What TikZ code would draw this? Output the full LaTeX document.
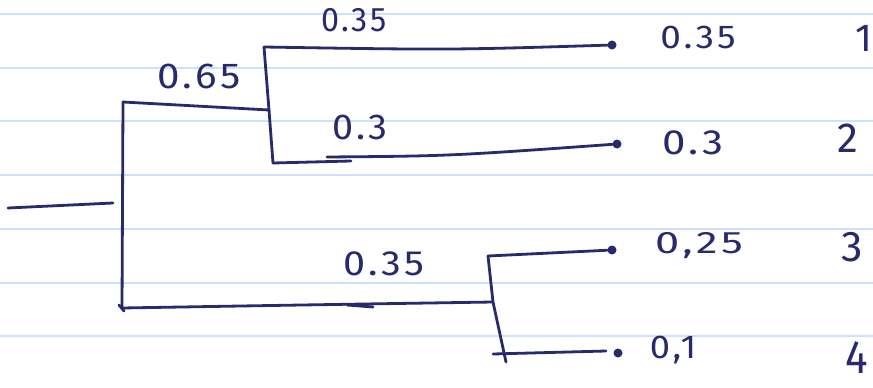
\documentclass[tikz,border=0pt]{standalone}
\usepackage{fontspec}
\setmainfont{Fira Sans}[LetterSpace=8]
\definecolor{ink}{HTML}{272A6B}
\definecolor{rule}{HTML}{CFE2FB}
\begin{document}
\begin{tikzpicture}[x=1pt,y=-1pt,
  pen/.style={draw=ink,line width=2.8pt,line cap=round,line join=round},
  ruled/.style={draw=rule,line width=2.6pt},
  leaf/.style={circle,fill=ink,inner sep=0pt,minimum size=9pt},
  lbl/.style={text=ink,font=\fontsize{#1}{#1}\selectfont,inner sep=0pt},
  num/.style={text=ink,font=\fontsize{#1}{#1}\selectfont,inner sep=0pt}]
  % page and ruled paper
  \useasboundingbox (0,0) rectangle (873,388);
  \fill[white] (0,0) rectangle (873,388);
  \foreach \yy in {14,68,121,175,229,283,336}
    \draw[ruled] (0,\yy) -- (873,\yy);

  % junction points of the tree
  \coordinate (r0) at (8,208);
  \coordinate (r1) at (113,203);
  \coordinate (a)  at (123,102);
  \coordinate (ab) at (122,308);
  \coordinate (b)  at (264,47);
  \coordinate (bm) at (269,110);
  \coordinate (bb) at (273,163);
  \coordinate (c)  at (488,256);
  \coordinate (cm) at (493,302);
  \coordinate (cb) at (506,362);

  % leaves
  \node[leaf] (l1) at (612,45) {};
  \node[leaf] (l2) at (617,144) {};
  \node[leaf] (l3) at (612,250) {};
  \node[leaf] (l4) at (618,353) {};

  % root stub
  \draw[pen] (r0) -- (r1);
  % first split
  \draw[pen] (a) -- (ab);
  \draw[pen] (a) -- (bm);
  \draw[pen] (ab) .. controls (300,305) .. (cm);
  \draw[pen] (347,305) -- (373,307);
  \draw[pen] (119,305) -- (124,311);
  % upper split
  \draw[pen] (b) -- (bm) -- (bb);
  \draw[pen] (b) .. controls (450,50) .. (l1);
  \draw[pen] (bb) -- (351,161);
  \draw[pen] (327,157) .. controls (450,156) .. (l2);
  % lower split
  \draw[pen] (c) -- (cm) -- (cb);
  \draw[pen] (c) -- (l3);
  \draw[pen] (493,354) -- (606,351);

  % branch lengths
  \node[lbl=36,xscale=1.12] (t65) at (199,76) {0.65};
  \node[lbl=34,xscale=0.95] (t35a) at (354,20) {0.35};
  \node[lbl=36,xscale=1.05] (t3a) at (360,127) {0.3};
  \node[lbl=35,xscale=1.13] (t35b) at (384,264) {0.35};

  % leaf values
  \node[lbl=33,xscale=1.12] (v1) at (698,37) {0.35};
  \node[lbl=35,xscale=1.2] (v2) at (693,143) {0.3};
  \node[lbl=31,xscale=1.4] (v3) at (699,246) {0,25};
  \node[lbl=33,xscale=1.1] (v4) at (673,350) {0,1};

  % leaf numbers
  \node[num=39] (n1) at (864,38) {1};
  \node[num=42] (n2) at (848,138) {2};
  \node[num=43] (n3) at (852,247) {3};
  \node[num=47,xscale=0.9] (n4) at (857,358) {4};
\end{tikzpicture}
\end{document}
